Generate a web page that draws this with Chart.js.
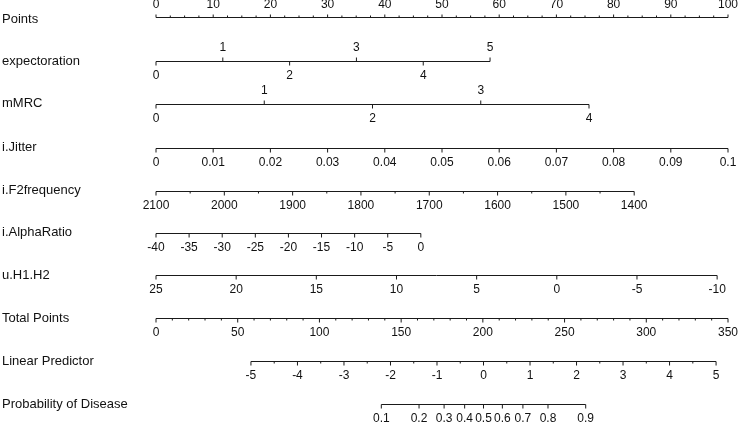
<!DOCTYPE html>
<html>
<head>
<meta charset="utf-8">
<script src="https://cdn.jsdelivr.net/npm/chart.js@4.4.1/dist/chart.umd.min.js"></script>
<style>
  body { margin: 0; background: #fff; }
</style>
</head>
<body>
<canvas id="nomogram" width="739" height="423"></canvas>
<script>
'use strict'
/* 데이터 시작 */
// 행 이름 (왼쪽 글자)
const rowNames = ['Points', 'expectoration', 'mMRC', 'i.Jitter', 'i.F2frequency',
  'i.AlphaRatio', 'u.H1.H2', 'Total Points', 'Linear Predictor', 'Probability of Disease'];

// Points 축
const pointsLabels = [0, 10, 20, 30, 40, 50, 60, 70, 80, 90, 100];
const pointsStep = 2.5;

// 변수별 값 (눈금 글자)
const expectorationLevels = [0, 1, 2, 3, 4, 5];
const mmrcLevels = [0, 1, 2, 3, 4];
const jitterLabels = [0, 0.01, 0.02, 0.03, 0.04, 0.05, 0.06, 0.07, 0.08, 0.09, 0.1];
const f2Labels = [2100, 2000, 1900, 1800, 1700, 1600, 1500, 1400];
const f2Step = 50;
const alphaLabels = [-40, -35, -30, -25, -20, -15, -10, -5, 0];
const h1h2Labels = [25, 20, 15, 10, 5, 0, -5, -10];
const totalLabels = [0, 50, 100, 150, 200, 250, 300, 350];
const totalStep = 10;
const lpLabels = [-5, -4, -3, -2, -1, 0, 1, 2, 3, 4, 5];
const lpStep = 0.5;
const probLabels = [0.1, 0.2, 0.3, 0.4, 0.5, 0.6, 0.7, 0.8, 0.9];

// 각 변수 끝값이 받는 점수
const expectorationMaxPts = 58.4;   // expectoration = 5
const mmrcMaxPts = 75.7;            // mMRC = 4
const jitterMaxPts = 100;           // i.Jitter = 0.1
const f2MaxPts = 83.6;              // i.F2frequency = 1400
const alphaMaxPts = 46.3;           // i.AlphaRatio = 0
const h1h2MaxPts = 98.1;            // u.H1.H2 = -10
const totalMax = 350;               // Total Points 축 끝
const lpTotalAtMin = 58.1;          // Linear Predictor = -5 일 때 Total Points
const lpTotalAtMax = 342.7;         // Linear Predictor = 5 일 때 Total Points
/* 데이터 끝 */

// 행마다 축선의 y 위치 (캔버스 픽셀 = y 축 값)
const rowLineY = [17, 61, 104, 148, 191, 233, 275, 318, 361, 404];
const rowTextY = [19, 61, 103, 147, 190, 232, 275, 318, 361, 404];

// 값 범위 만들기
function range(a, b, step) {
  const out = [];
  const n = Math.round(Math.abs(b - a) / step);
  const dir = b >= a ? 1 : -1;
  for (let i = 0; i <= n; i++) out.push(+(a + dir * i * step).toFixed(6));
  return out;
}

// v0~v1 값을 p0~p1 점수로 바꾸는 함수
function linear(v0, v1, p0, p1) {
  return v => p0 + (v - v0) / (v1 - v0) * (p1 - p0);
}

const totalToPts = v => v / totalMax * 100;
const lpToTotal = linear(-5, 5, lpTotalAtMin, lpTotalAtMax);
const lpToPts = v => totalToPts(lpToTotal(v));
const probToPts = p => lpToPts(Math.log(p / (1 - p)));

// 축 정의: ticks = 눈금 위치, labels = 글자, mode = 글자/눈금 방향
const axes = [
  { row: 0, ticks: range(0, 100, pointsStep), labels: pointsLabels, toPts: v => v, mode: 'up' },
  { row: 1, ticks: expectorationLevels, labels: expectorationLevels,
    toPts: linear(0, 5, 0, expectorationMaxPts), mode: 'alt' },
  { row: 2, ticks: mmrcLevels, labels: mmrcLevels,
    toPts: linear(0, 4, 0, mmrcMaxPts), mode: 'alt' },
  { row: 3, ticks: jitterLabels, labels: jitterLabels,
    toPts: linear(0, 0.1, 0, jitterMaxPts), mode: 'down' },
  { row: 4, ticks: range(2100, 1400, f2Step), labels: f2Labels,
    toPts: linear(2100, 1400, 0, f2MaxPts), mode: 'down' },
  { row: 5, ticks: alphaLabels, labels: alphaLabels,
    toPts: linear(-40, 0, 0, alphaMaxPts), mode: 'down' },
  { row: 6, ticks: h1h2Labels, labels: h1h2Labels,
    toPts: linear(25, -10, 0, h1h2MaxPts), mode: 'down' },
  { row: 7, ticks: range(0, 350, totalStep), labels: totalLabels, toPts: totalToPts, mode: 'down' },
  { row: 8, ticks: range(-5, 5, lpStep), labels: lpLabels, toPts: lpToPts, mode: 'down' },
  { row: 9, ticks: probLabels, labels: probLabels, toPts: probToPts, mode: 'down' },
];

// 눈금이 위쪽인지 (odd 값은 위, even 값은 아래)
function isUp(axis, v) {
  if (axis.mode === 'up') return true;
  if (axis.mode === 'alt') return v % 2 === 1;
  return false;
}

const lineColor = '#1a1a1a';
const datasets = [];

// 축선
axes.forEach(axis => {
  const xs = axis.ticks.map(axis.toPts);
  const y = rowLineY[axis.row] + 0.5;
  datasets.push({
    type: 'line',
    data: [{ x: Math.min(...xs), y: y }, { x: Math.max(...xs), y: y }],
    borderColor: lineColor,
    borderWidth: 1,
    pointRadius: 0,
    clip: false,
  });
});

// 눈금 (세로 짧은 선)
const tickPoints = [];
axes.forEach(axis => {
  axis.ticks.forEach(v => {
    const major = axis.labels.includes(v);
    let len = major ? 4 : 2;
    if (axis.row === 0) len = major ? 3 : 2;
    const dir = isUp(axis, v) ? -1 : 1;
    tickPoints.push({ x: axis.toPts(v), y: rowLineY[axis.row] + 0.5 + dir * len / 2, len: len });
  });
});
datasets.push({
  type: 'scatter',
  data: tickPoints,
  pointStyle: 'line',
  rotation: 90,
  radius: ctx => (ctx.raw ? ctx.raw.len / 2 : 2),
  borderColor: lineColor,
  borderWidth: 1,
  clip: false,
});

// 글자 그리기 플러그인
const labelPlugin = {
  id: 'nomoLabels',
  afterDatasetsDraw(chart) {
    const { ctx, scales } = chart;
    ctx.save();
    ctx.fillStyle = '#111';
    ctx.textBaseline = 'middle';

    // 왼쪽 행 이름
    ctx.font = '13px "Liberation Sans", Arial, sans-serif';
    ctx.textAlign = 'left';
    rowNames.forEach((name, i) => {
      ctx.fillText(name, 2, scales.y.getPixelForValue(rowTextY[i]));
    });

    // 축 눈금 글자
    ctx.font = '12px "Liberation Sans", Arial, sans-serif';
    ctx.textAlign = 'center';
    axes.forEach(axis => {
      axis.labels.forEach(v => {
        const x = scales.x.getPixelForValue(axis.toPts(v));
        const up = isUp(axis, v);
        const off = up ? (axis.row === 0 ? -12 : -13) : 15;
        const y = scales.y.getPixelForValue(rowLineY[axis.row] + off);
        ctx.fillText(String(v), x, y);
      });
    });
    ctx.restore();
  }
};

new Chart(document.getElementById('nomogram'), {
  type: 'scatter',
  data: { datasets: datasets },
  options: {
    responsive: false, // 크기 고정
    animation: false,
    layout: { autoPadding: false, padding: { left: 156, right: 11, top: 0, bottom: 0 } },
    scales: {
      x: { type: 'linear', min: 0, max: 100, display: false },
      y: { type: 'linear', min: 0, max: 423, reverse: true, display: false },
    },
    plugins: {
      legend: { display: false },
      tooltip: { enabled: false },
    },
  },
  plugins: [labelPlugin],
});
</script>
</body>
</html>
